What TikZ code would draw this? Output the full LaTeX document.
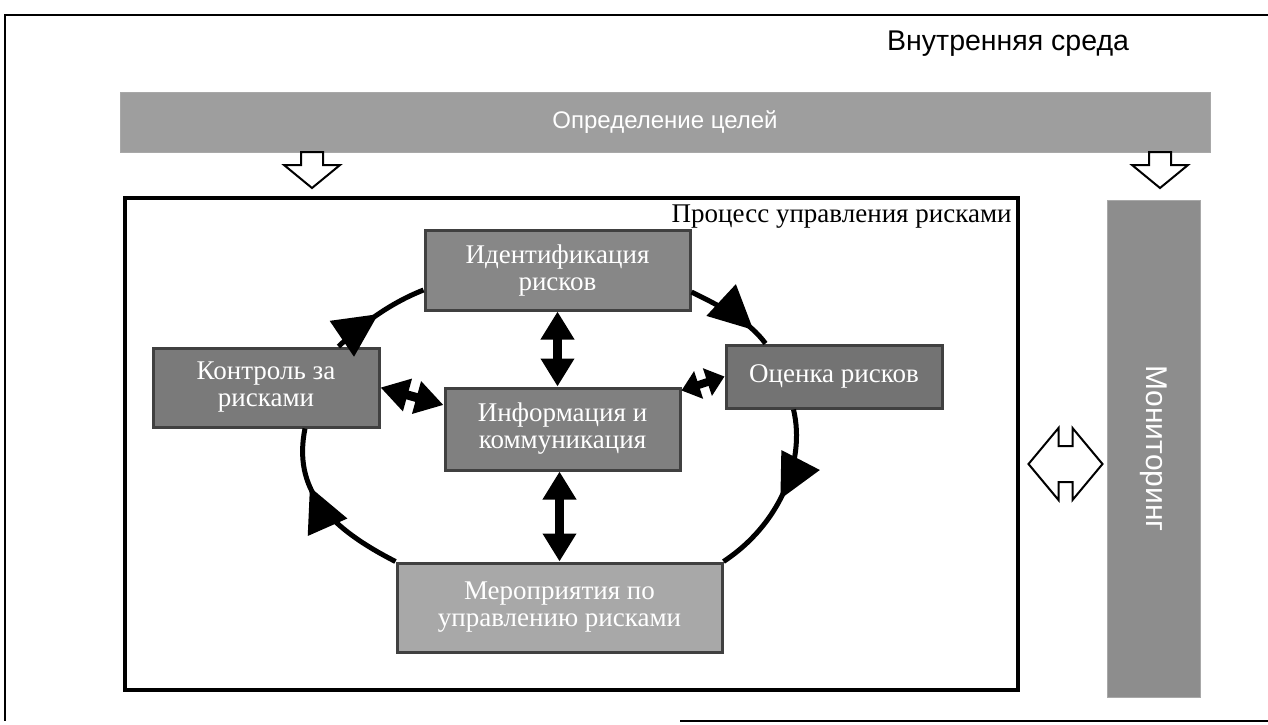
\documentclass[tikz,border=0pt]{standalone}
\usepackage{fontspec}
\setmainfont{Liberation Serif}
\newfontfamily\arial{Liberation Sans}
\usetikzlibrary{arrows.meta,decorations.markings}

\definecolor{fonA}{gray}{0.53}
\definecolor{fonB}{gray}{0.66}
\definecolor{fonC}{gray}{0.62}
\definecolor{kant}{gray}{0.25}

\begin{document}
\begin{tikzpicture}[x=1pt,y=-1pt,
  blok/.style={draw=kant,line width=3pt,fill=#1,text=white,align=center,inner sep=0pt,
    font=\fontsize{27}{27}\selectfont},
  krug/.style={line width=5pt,postaction={decorate},decoration={markings,
    mark=at position #1 with {\arrow{Triangle[length=44pt,width=42pt]}}}},
  krug/.default=0.55,
  dvoj/.style={line width=9pt,{Triangle[length=28pt,width=32pt]}-{Triangle[length=28pt,width=32pt]}},
  polyj/.style={draw,line width=2pt,fill=white},
  strelka/.pic={\path[polyj] (-11,0) -- (11,0) -- (11,13) -- (28,13) -- (0,36) -- (-28,13) -- (-11,13) -- cycle;},
  dvestrelka/.pic={\path[polyj] (-37,0) -- (-7,-36) -- (-7,-18) -- (7,-18) -- (7,-36) -- (37,0)
    -- (7,36) -- (7,18) -- (-7,18) -- (-7,36) -- cycle;}]
\useasboundingbox (0,0) rectangle (1268,724);
\draw[line width=2.5pt] (1268,15) -- (5,15) -- (5,721);
\draw[line width=2.5pt] (680,721) -- (1268,721);
\node[anchor=base west,inner sep=0pt,font=\arial\fontsize{28.5}{30}\selectfont] (sreda) at (887,50) {Внутренняя среда};
\node[fill=fonC,draw=fonB,minimum width=1090,minimum height=60,text=white,
  font=\arial\fontsize{24}{27}\selectfont] (cel) at (665,122) {Определение целей};
\node[draw,line width=3.5pt,minimum width=893,minimum height=492] (proc) at (571.5,444) {};
\node[anchor=base east,inner sep=0pt,font=\fontsize{27}{30}\selectfont] (title) at ([xshift=-8pt,yshift=-26pt]proc.north east) {Процесс управления рисками};
\node[fill=fonA!95,draw=fonB,rotate=-90,minimum width=497,minimum height=93,text=white,
  font=\arial\fontsize{30}{32}\selectfont] (monit) at (1153.5,448.5) {Мониторинг};
\pic at (312,152) {strelka};
\pic at (1160,152) {strelka};
\pic at (1065.5,464) {dvestrelka};
% blocks of the cycle
\node[blok=fonA,minimum width=265,minimum height=80] (ident) at (557.5,270) {Идентификация\\рисков};
\node[blok=fonA!90!black,minimum width=226,minimum height=79] (kontrol) at (266,387.5) {Контроль за\\рисками};
\node[blok=fonA!85!black,minimum width=216,minimum height=63] (ocenka) at (834,376.5) {Оценка рисков};
\node[blok=fonA!95!black,minimum width=235,minimum height=82] (info) at (562.5,429) {Информация и\\коммуникация};
\node[blok=fonB,minimum width=325,minimum height=89] (mero) at (559.5,607.5) {Мероприятия по\\управлению рисками};
% cycle
\draw[krug=0.5] ([xshift=-42pt]kontrol.north east) .. controls (360,326) and (388,304) .. ([yshift=-20pt]ident.west);
\draw[krug=0.8] ([yshift=-22pt]ident.east) .. controls (722,307) and (749,321) .. ([xshift=41pt]ocenka.north west);
\draw[krug=0.52] ([xshift=69pt]ocenka.south west) .. controls (806,462) and (779,525) .. (mero.north east);
\draw[krug=0.66] (mero.north west) .. controls (326,526) and (293,488) .. ([xshift=39pt]kontrol.south);
% links to the centre
\draw[dvoj] (ident.south) -- (ident.south |- info.north);
\draw[dvoj] (mero.north |- info.south) -- (mero.north);
\draw[dvoj] (kontrol.east) -- ([yshift=24pt]info.west);
\draw[line width=8pt,{Triangle[length=18pt,width=28pt]}-{Triangle[length=18pt,width=28pt]}] (ocenka.west) -- ([yshift=-4pt]info.north east);
\end{tikzpicture}
\end{document}
